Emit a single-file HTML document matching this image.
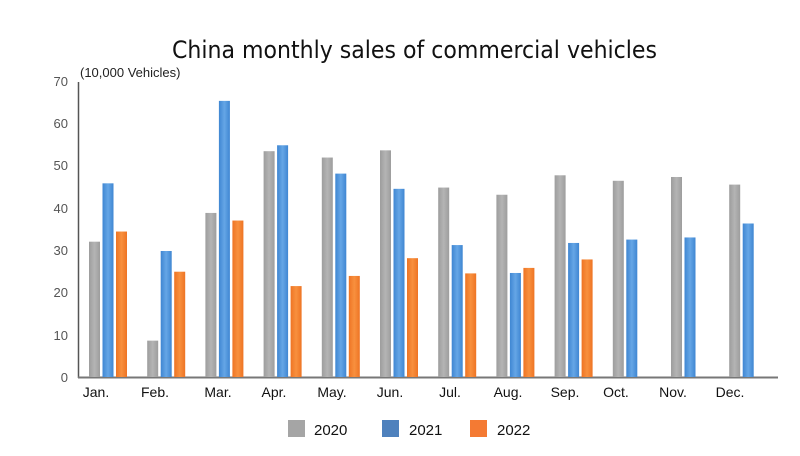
<!DOCTYPE html>
<html><head><meta charset="utf-8"><style>
body{margin:0;background:#fff;}
svg{display:block;font-family:"Liberation Sans",sans-serif;}
</style></head><body>
<svg width="800" height="456" xmlns="http://www.w3.org/2000/svg">
<defs>
<linearGradient id="g" x1="0" x2="1"><stop offset="0" stop-color="#9d9d9d"/><stop offset="0.5" stop-color="#b4b4b4"/><stop offset="1" stop-color="#9d9d9d"/></linearGradient>
<linearGradient id="b" x1="0" x2="1"><stop offset="0" stop-color="#3f86d2"/><stop offset="0.5" stop-color="#65a6e6"/><stop offset="1" stop-color="#3f86d2"/></linearGradient>
<linearGradient id="o" x1="0" x2="1"><stop offset="0" stop-color="#ee7424"/><stop offset="0.5" stop-color="#f8903e"/><stop offset="1" stop-color="#ee7424"/></linearGradient>
</defs>
<text x="172" y="58" textLength="485" lengthAdjust="spacingAndGlyphs" font-size="24" font-weight="500" fill="#111" font-family="'DejaVu Sans',sans-serif">China monthly sales of commercial vehicles</text>
<text x="80" y="77" font-size="13" fill="#222">(10,000 Vehicles)</text>
<g font-size="13" fill="#555" text-anchor="end">
<text x="68" y="86">70</text><text x="68" y="128">60</text><text x="68" y="170">50</text><text x="68" y="213">40</text><text x="68" y="255">30</text><text x="68" y="297">20</text><text x="68" y="340">10</text><text x="68" y="382">0</text>
</g>
<line x1="78.5" y1="82" x2="78.5" y2="378" stroke="#555" stroke-width="1.5"/>
<line x1="78" y1="377.5" x2="778" y2="377.5" stroke="#777" stroke-width="2"/>
<g id="bars"></g>
<g font-size="14" fill="#111" text-anchor="middle">
<text x="96" y="397">Jan.</text><text x="155" y="397">Feb.</text><text x="218" y="397">Mar.</text><text x="274" y="397">Apr.</text><text x="332" y="397">May.</text><text x="390" y="397">Jun.</text><text x="450" y="397">Jul.</text><text x="508" y="397">Aug.</text><text x="565" y="397">Sep.</text><text x="616" y="397">Oct.</text><text x="673" y="397">Nov.</text><text x="730" y="397">Dec.</text>
</g>
<rect x="288" y="420" width="17" height="17" fill="#a5a5a5"/>
<text x="314" y="435" font-size="15" fill="#111">2020</text>
<rect x="382" y="420" width="17" height="17" fill="#4e81bd"/>
<text x="409" y="435" font-size="15" fill="#111">2021</text>
<rect x="470" y="420" width="17" height="17" fill="#f47a33"/>
<text x="497" y="435" font-size="15" fill="#111">2022</text>
</svg>
<script>
var d=[[32,45.8,34.4],[8.6,29.8,24.9],[38.8,65.3,37],[53.4,54.8,21.5],[51.9,48.1,23.9],[53.6,44.5,28.1],[44.8,31.2,24.5],[43.1,24.6,25.8],[47.7,31.7,27.8],[46.4,32.5,0],[47.3,33,0],[45.5,36.3,0]];
var f=['url(#g)','url(#b)','url(#o)'],s='',k=296/70;
d.forEach(function(r,i){r.forEach(function(v,j){if(!v)return;var x=89+i*58.2+j*13.5,h=v*k;s+='<rect x="'+x+'" y="'+(377-h)+'" width="11" height="'+h+'" fill="'+f[j]+'"/>';});});
document.getElementById('bars').innerHTML=s;
</script>
</body></html>
